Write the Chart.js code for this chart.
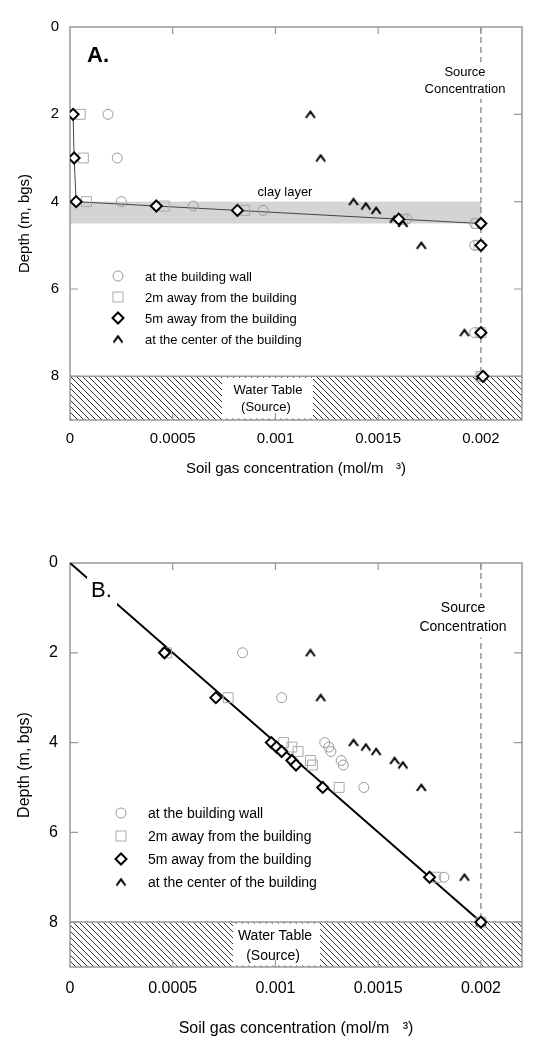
<!DOCTYPE html>
<html><head><meta charset="utf-8">
<script src="https://cdn.jsdelivr.net/npm/chart.js@4/dist/chart.umd.min.js"></script>
<style>
html,body{margin:0;padding:0;background:#fff;}
#wrap{position:relative;width:538px;height:1050px;overflow:hidden;}
canvas{position:absolute;left:0;}
</style></head><body>
<div id="wrap">
<canvas id="cA" width="538" height="525" style="top:0"></canvas>
<canvas id="cB" width="538" height="525" style="top:525px"></canvas>
</div>
<script>
// ---------- data ----------
const depths = [2, 3, 4, 4.1, 4.2, 4.4, 4.5, 5, 7, 8];
// Panel A
const wallA   = [0.000185, 0.00023, 0.00025, 0.0006, 0.00094, 0.00164, 0.00197, 0.00197, 0.00197, 0.002];
const twoMA   = [0.00005, 0.000065, 0.00008, 0.00046, 0.00085, 0.00162, 0.00198, 0.00199, 0.002, 0.002];
const fiveMA  = [0.000015, 0.00002, 0.00003, 0.00042, 0.000815, 0.0016, 0.002, 0.002, 0.002, 0.00201];
const centerA = [0.00117, 0.00122, 0.00138, 0.00144, 0.00149, 0.00158, 0.00162, 0.00171, 0.00192, 0.002];
// Panel B
const wallB   = [0.00084, 0.00103, 0.00124, 0.00126, 0.00127, 0.00132, 0.00133, 0.00143, 0.00182, 0.002];
const twoMB   = [0.00047, 0.00077, 0.00104, 0.00108, 0.00111, 0.00117, 0.00118, 0.00131, 0.00178, 0.002];
const fiveMB  = [0.00046, 0.00071, 0.00098, 0.001005, 0.00103, 0.00108, 0.0011, 0.00123, 0.00175, 0.002];
const centerB = [0.00117, 0.00122, 0.00138, 0.00144, 0.00149, 0.00158, 0.00162, 0.00171, 0.00192, 0.002];
// linear profile in B
const fitBx = [0, 0.002];
const fitBy = [0, 8];
// annotations
const sourceConc = 0.002;
const clayLayer = [4, 4.5];
const waterTable = [8, 9];
// ticks
const xTickValues = [0, 0.0005, 0.001, 0.0015, 0.002];
const xTickLabels = ['0', '0.0005', '0.001', '0.0015', '0.002'];
const yTickValues = [0, 2, 4, 6, 8];
const yTickLabels = ['0', '2', '4', '6', '8'];
const legendLabels = ['at the building wall', '2m away from the building', '5m away from the building', 'at the center of the building'];

const FONT = '"Liberation Sans", Arial, sans-serif';

// caret marker
function makeCaret() {
  const c = document.createElement('canvas');
  c.width = 12; c.height = 9;
  const g = c.getContext('2d');
  g.strokeStyle = '#000'; g.lineWidth = 2; g.lineJoin = 'miter';
  g.beginPath(); g.moveTo(1.5, 8); g.lineTo(6, 1.8); g.lineTo(10.5, 8); g.stroke();
  return c;
}
const caretImg = makeCaret();

function makeHatch() {
  const s = 6;
  const c = document.createElement('canvas');
  c.width = s; c.height = s;
  const g = c.getContext('2d');
  g.strokeStyle = '#333'; g.lineWidth = 1;
  g.beginPath();
  g.moveTo(0, 0); g.lineTo(s, s);
  g.moveTo(-1, s - 1); g.lineTo(1, s + 1);
  g.moveTo(s - 1, -1); g.lineTo(s + 1, 1);
  g.stroke();
  return c;
}
const hatchImg = makeHatch();

function pts(xs, ys) { return xs.map((v, i) => ({x: v, y: ys[i]})); }

function drawLegendMarker(ctx, type, x, y) {
  ctx.save();
  if (type === 0) {
    ctx.strokeStyle = '#999'; ctx.lineWidth = 1;
    ctx.beginPath(); ctx.arc(x, y, 5, 0, Math.PI * 2); ctx.stroke();
  } else if (type === 1) {
    ctx.strokeStyle = '#aaa'; ctx.lineWidth = 1;
    ctx.strokeRect(x - 5, y - 5, 10, 10);
  } else if (type === 2) {
    ctx.fillStyle = '#fff'; ctx.strokeStyle = '#000'; ctx.lineWidth = 2;
    ctx.beginPath(); ctx.moveTo(x, y - 5.5); ctx.lineTo(x + 5.5, y); ctx.lineTo(x, y + 5.5); ctx.lineTo(x - 5.5, y); ctx.closePath();
    ctx.fill(); ctx.stroke();
  } else {
    ctx.drawImage(caretImg, x - caretImg.width / 2, y - caretImg.height / 2);
  }
  ctx.restore();
}

function decoPlugin(d) {
  return {
    id: 'deco',
    beforeDatasetsDraw(chart) {
      const {ctx, chartArea: ca, scales: {x, y}} = chart;
      ctx.save();
      // clay layer
      if (d.clay) {
        const x0 = x.getPixelForValue(0), x1 = x.getPixelForValue(sourceConc);
        const y0 = y.getPixelForValue(clayLayer[0]), y1 = y.getPixelForValue(clayLayer[1]);
        ctx.fillStyle = '#d4d4d4';
        ctx.fillRect(x0, y0, x1 - x0, y1 - y0);
        ctx.fillStyle = '#000';
        ctx.font = d.clay.size + 'px ' + FONT;
        ctx.textAlign = 'center'; ctx.textBaseline = 'middle';
        ctx.fillText('clay layer', d.clay.x, d.clay.y);
      }
      // water table hatch
      const wy0 = y.getPixelForValue(waterTable[0]), wy1 = y.getPixelForValue(waterTable[1]);
      ctx.fillStyle = ctx.createPattern(hatchImg, 'repeat');
      ctx.fillRect(ca.left, wy0, ca.right - ca.left, wy1 - wy0);
      ctx.strokeStyle = '#999'; ctx.lineWidth = 1.5;
      ctx.beginPath(); ctx.moveTo(ca.left, wy0); ctx.lineTo(ca.right, wy0); ctx.stroke();
      // water table label
      const w = d.water;
      ctx.fillStyle = '#fff';
      ctx.fillRect(w.box[0], wy0 + 1.5, w.box[1] - w.box[0], wy1 - wy0 - 3);
      ctx.fillStyle = '#000';
      ctx.font = w.size + 'px ' + FONT;
      ctx.textAlign = 'center'; ctx.textBaseline = 'middle';
      ctx.fillText('Water Table', w.cx, w.y1);
      ctx.fillText('(Source)', w.cx - 2, w.y2);
      // source concentration dashed line
      const sx = x.getPixelForValue(sourceConc);
      ctx.strokeStyle = '#888'; ctx.lineWidth = 1.3; ctx.setLineDash([6, 4]);
      ctx.beginPath(); ctx.moveTo(sx, y.getPixelForValue(0)); ctx.lineTo(sx, wy0); ctx.stroke();
      ctx.setLineDash([]);
      const s = d.src;
      ctx.font = s.size + 'px ' + FONT;
      const tw = ctx.measureText('Concentration').width;
      ctx.fillStyle = '#fff';
      ctx.fillRect(s.x - tw / 2 - 2, s.y1 - s.size * 0.75, tw + 4, s.y2 - s.y1 + s.size * 1.5);
      ctx.fillStyle = '#000';
      ctx.fillText('Source', s.x, s.y1);
      ctx.fillText('Concentration', s.x, s.y2);
      // frame
      ctx.strokeStyle = '#999'; ctx.lineWidth = 1.5;
      ctx.strokeRect(ca.left, ca.top, ca.right - ca.left, ca.bottom - ca.top);
      ctx.lineWidth = 1.2;
      ctx.beginPath();
      xTickValues.forEach(v => {
        if (v === 0) return;
        const px = x.getPixelForValue(v);
        ctx.moveTo(px, ca.top); ctx.lineTo(px, ca.top + 7);
        ctx.moveTo(px, ca.bottom); ctx.lineTo(px, ca.bottom - 7);
      });
      yTickValues.forEach(v => {
        if (v === 0) return;
        const py = y.getPixelForValue(v);
        ctx.moveTo(ca.left, py); ctx.lineTo(ca.left + 8, py);
        ctx.moveTo(ca.right, py); ctx.lineTo(ca.right - 8, py);
      });
      ctx.stroke();
      ctx.restore();
    },
    afterDatasetsDraw(chart) {
      const {ctx} = chart;
      ctx.save();
      // panel label
      const p = d.panel;
      ctx.font = (p.bold ? 'bold ' : '') + p.size + 'px ' + FONT;
      ctx.textAlign = 'left'; ctx.textBaseline = 'middle';
      if (p.box) { ctx.fillStyle = '#fff'; ctx.fillRect(p.box[0], p.box[1], p.box[2], p.box[3]); }
      ctx.fillStyle = '#000';
      ctx.fillText(p.text, p.x, p.y);
      // legend
      const L = d.legend;
      ctx.font = L.size + 'px ' + FONT;
      legendLabels.forEach((t, i) => {
        drawLegendMarker(ctx, i, L.mx, L.rows[i]);
        ctx.fillStyle = '#000';
        ctx.fillText(t, L.tx, L.rows[i] + 1);
      });
      ctx.restore();
    }
  };
}

function makeChart(id, ser, lineData, lineWidth, lineColor, L) {
  const datasets = [
    {label: legendLabels[2], data: pts(ser[2], depths), pointStyle: 'rectRot', pointRadius: 5.5, borderColor: '#000', backgroundColor: '#fff', borderWidth: 2, order: 1},
    {label: legendLabels[3], data: pts(ser[3], depths), pointStyle: caretImg, pointRadius: 5, order: 2},
    {label: legendLabels[1], data: pts(ser[1], depths), pointStyle: 'rect', pointRadius: 7, borderColor: '#aaa', backgroundColor: 'rgba(0,0,0,0)', borderWidth: 1, order: 3},
    {label: legendLabels[0], data: pts(ser[0], depths), pointStyle: 'circle', pointRadius: 5, borderColor: '#999', backgroundColor: 'rgba(0,0,0,0)', borderWidth: 1, order: 4},
    {label: 'profile', data: lineData, showLine: true, pointRadius: 0, borderColor: lineColor, borderWidth: lineWidth, order: 5}
  ];
  return new Chart(document.getElementById(id), {
    type: 'scatter',
    data: {datasets},
    options: {
      responsive: false, animation: false, devicePixelRatio: 1,
      layout: {padding: {left: 0, right: 16, top: L.top, bottom: 0}},
      plugins: {legend: {display: false}, tooltip: {enabled: false}},
      scales: {
        x: {
          type: 'linear', min: 0, max: 0.0022,
          afterBuildTicks: s => { s.ticks = xTickValues.map(v => ({value: v})); },
          afterFit: s => { s.height = L.xh; },
          grid: {display: false, drawTicks: false}, border: {display: false},
          ticks: {autoSkip: false, maxRotation: 0, padding: L.xpad, color: '#000', font: {family: FONT, size: L.fs}, callback: (v, i) => xTickLabels[i]},
          title: {display: true, text: 'Soil gas concentration (mol/m   ³)', color: '#000', font: {family: FONT, size: L.fs}, padding: {top: 0, bottom: L.xtpad}}
        },
        y: {
          type: 'linear', reverse: true, min: 0, max: 9,
          afterBuildTicks: s => { s.ticks = yTickValues.map(v => ({value: v})); },
          afterFit: s => { s.width = 70; },
          grid: {display: false, drawTicks: false}, border: {display: false},
          ticks: {autoSkip: false, padding: L.ypad, color: '#000', font: {family: FONT, size: L.fs}, callback: (v, i) => yTickLabels[i]},
          title: {display: true, text: 'Depth (m, bgs)', color: '#000', font: {family: FONT, size: L.fs}, padding: {top: L.ytpad, bottom: 0}}
        }
      }
    },
    plugins: [decoPlugin(L.deco)]
  });
}

makeChart('cA', [wallA, twoMA, fiveMA, centerA], pts(fiveMA.slice(0, 7), depths.slice(0, 7)), 1, '#444', {
  top: 27, xh: 105, xpad: 10, xtpad: 47, ypad: 11, ytpad: 16, fs: 15,
  deco: {
    clay: {x: 285, y: 192, size: 13},
    water: {box: [222, 313], cx: 268, y1: 390, y2: 407, size: 13},
    src: {x: 465, y1: 72, y2: 89, size: 13},
    panel: {text: 'A.', bold: true, size: 22, x: 87, y: 56},
    legend: {mx: 118, tx: 145, rows: [276, 297, 318, 339], size: 13}
  }
});

makeChart('cB', [wallB, twoMB, fiveMB, centerB], pts(fitBx, fitBy), 2, '#000', {
  top: 38, xh: 83, xpad: 12, xtpad: 12, ypad: 12, ytpad: 15, fs: 16,
  deco: {
    clay: null,
    water: {box: [233, 320], cx: 275, y1: 411, y2: 431, size: 14},
    src: {x: 463, y1: 83, y2: 102, size: 14},
    panel: {text: 'B.', bold: false, size: 22, x: 91, y: 66, box: [87, 52, 30, 28]},
    legend: {mx: 121, tx: 148, rows: [288, 311, 334, 357], size: 14}
  }
});
</script>
</body></html>
